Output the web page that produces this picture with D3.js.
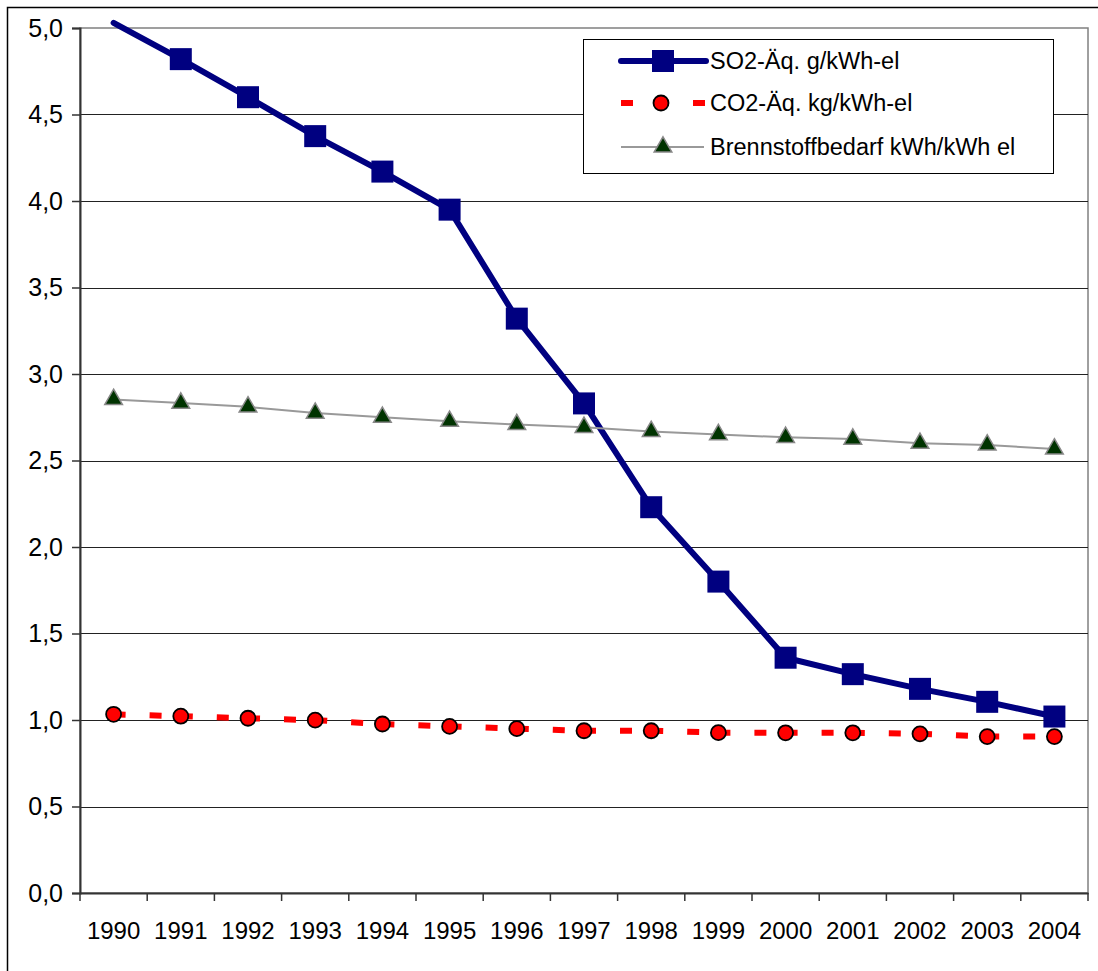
<!DOCTYPE html>
<html>
<head>
<meta charset="utf-8">
<script src="https://cdn.jsdelivr.net/npm/d3@7"></script>
<style>
  html, body { margin: 0; padding: 0; background: #fff; }
  svg { display: block; font-family: "Liberation Sans", Arial, sans-serif; }
</style>
</head>
<body>
<svg id="chart" width="1098" height="971"></svg>
<script>
// Jahre (Kategorien)
const years = ["1990","1991","1992","1993","1994","1995","1996","1997","1998","1999","2000","2001","2002","2003","2004"];

// SO2-Äquivalent in g/kWh-el
const so2 = [5.03, 4.82, 4.60, 4.375, 4.17, 3.95, 3.32, 2.83, 2.23, 1.80, 1.36, 1.265, 1.18, 1.105, 1.02];

// CO2-Äquivalent in kg/kWh-el
const co2 = [1.033, 1.022, 1.010, 0.999, 0.977, 0.963, 0.950, 0.938, 0.938, 0.927, 0.926, 0.926, 0.920, 0.904, 0.904];

// Brennstoffbedarf in kWh/kWh el
const fuel = [2.853, 2.832, 2.810, 2.774, 2.750, 2.727, 2.708, 2.692, 2.668, 2.650, 2.634, 2.624, 2.600, 2.590, 2.567];

// Beschriftung der Y-Achse
const yTicks = [0, 0.5, 1.0, 1.5, 2.0, 2.5, 3.0, 3.5, 4.0, 4.5, 5.0];

const seriesNames = ["SO2-Äq. g/kWh-el", "CO2-Äq. kg/kWh-el", "Brennstoffbedarf kWh/kWh el"];

(function () {
const svg = d3.select("#chart");
const plotL = 80, plotR = 1088, plotT = 28, plotB = 893;
const yFont = 25, xFont = 24, legendFont = 23.5;

const x = d3.scaleBand().domain(years).range([plotL, plotR]).paddingInner(0).paddingOuter(0);
const y = d3.scaleLinear().domain([0, 5]).range([plotB, plotT]);
const cx = d => x(d) + x.bandwidth() / 2;

// Äußerer Rahmen des Diagramms
svg.append("rect")
  .attr("x", 7.5).attr("y", 7.5)
  .attr("width", 1200).attr("height", 1100)
  .attr("fill", "none").attr("stroke", "#000").attr("stroke-width", 1.5);

// Rahmen der Zeichenfläche (grau)
svg.append("rect")
  .attr("x", plotL).attr("y", plotT)
  .attr("width", plotR - plotL).attr("height", plotB - plotT)
  .attr("fill", "none").attr("stroke", "#808080").attr("stroke-width", 1.5);

// Gitterlinien
svg.append("g")
  .selectAll("line")
  .data(yTicks.filter(v => v > 0 && v < 5))
  .join("line")
  .attr("x1", plotL).attr("x2", plotR)
  .attr("y1", d => Math.round(y(d)) + 0.5).attr("y2", d => Math.round(y(d)) + 0.5)
  .attr("stroke", "#222").attr("stroke-width", 1);

// Y-Achse
const yAxis = d3.axisLeft(y)
  .tickValues(yTicks)
  .tickFormat(d => d3.format(".1f")(d).replace(".", ","))
  .tickSize(8)
  .tickPadding(9);
const gy = svg.append("g").attr("transform", `translate(${plotL},0)`).call(yAxis);
gy.select(".domain").attr("stroke", "#333").attr("stroke-width", 2);
gy.selectAll(".tick line").attr("stroke", "#333").attr("stroke-width", 1.5);
gy.selectAll(".tick text")
  .attr("fill", "#000")
  .style("font-size", yFont + "px")
  .style("font-family", "'Liberation Sans', Arial, sans-serif");

// X-Achse: Linie, Striche an den Kategoriegrenzen, Beschriftung mittig
const xAxis = d3.axisBottom(x).tickSize(0).tickPadding(29);
const gx = svg.append("g").attr("transform", `translate(0,${plotB})`).call(xAxis);
gx.select(".domain").attr("stroke", "#333").attr("stroke-width", 2);
gx.selectAll(".tick text")
  .attr("fill", "#000")
  .style("font-size", xFont + "px")
  .style("font-family", "'Liberation Sans', Arial, sans-serif");

const boundaries = years.map(d => x(d)).concat([x.range()[1]]);
svg.append("g")
  .selectAll("line")
  .data(boundaries)
  .join("line")
  .attr("x1", d => d).attr("x2", d => d)
  .attr("y1", plotB).attr("y2", plotB + 8)
  .attr("stroke", "#333").attr("stroke-width", 1.5);

const line = vals => d3.line().x((d, i) => cx(years[i])).y(d => y(d))(vals);

// SO2: dicke dunkelblaue Linie mit Quadraten
svg.append("path")
  .attr("d", line(so2))
  .attr("fill", "none").attr("stroke", "#000080").attr("stroke-width", 6)
  .attr("stroke-linejoin", "round").attr("stroke-linecap", "round");
svg.append("g")
  .selectAll("path")
  .data(so2.map((v, i) => ({ v, yr: years[i] })).filter(d => d.v <= 5))
  .join("path")
  .attr("d", d3.symbol(d3.symbolSquare, 22 * 22)())
  .attr("transform", d => `translate(${cx(d.yr)},${y(d.v)})`)
  .attr("fill", "#000080");

// CO2: rot gestrichelt, Strichmuster beginnt in jedem Abschnitt neu
const co2Pts = co2.map((v, i) => [cx(years[i]), y(v)]);
svg.append("g")
  .selectAll("line")
  .data(d3.pairs(co2Pts))
  .join("line")
  .attr("x1", d => d[0][0]).attr("y1", d => d[0][1])
  .attr("x2", d => d[1][0]).attr("y2", d => d[1][1])
  .attr("stroke", "#ff0000").attr("stroke-width", 6)
  .attr("stroke-dasharray", "12,24");
svg.append("g")
  .selectAll("circle")
  .data(co2Pts)
  .join("circle")
  .attr("cx", d => d[0]).attr("cy", d => d[1]).attr("r", 7.5)
  .attr("fill", "#ff0000").attr("stroke", "#000").attr("stroke-width", 1.8);

// Brennstoffbedarf: dünne graue Linie mit dunkelgrünen Dreiecken
svg.append("path")
  .attr("d", line(fuel))
  .attr("fill", "none").attr("stroke", "#999").attr("stroke-width", 2);
const triangle = d3.symbol(d3.symbolTriangle, 135)();
svg.append("g")
  .selectAll("path")
  .data(fuel.map((v, i) => ({ v, yr: years[i] })))
  .join("path")
  .attr("d", triangle)
  .attr("transform", d => `translate(${cx(d.yr)},${y(d.v)})`)
  .attr("fill", "#003300").attr("stroke", "#888").attr("stroke-width", 1.5);

// Legende
const lg = svg.append("g");
lg.append("rect")
  .attr("x", 583.5).attr("y", 39.5).attr("width", 470).attr("height", 134)
  .attr("fill", "#fff").attr("stroke", "#000").attr("stroke-width", 1);
const rowsY = [61, 103, 147];
const lx1 = 621, lx2 = 706, mx = 663;

// Zeile 1: SO2
lg.append("line").attr("x1", lx1).attr("x2", lx2).attr("y1", rowsY[0]).attr("y2", rowsY[0])
  .attr("stroke", "#000080").attr("stroke-width", 6).attr("stroke-linecap", "round");
lg.append("path").attr("d", d3.symbol(d3.symbolSquare, 22 * 22)())
  .attr("transform", `translate(${mx},${rowsY[0]})`).attr("fill", "#000080");

// Zeile 2: CO2
lg.append("line").attr("x1", lx1).attr("x2", lx2).attr("y1", rowsY[1]).attr("y2", rowsY[1])
  .attr("stroke", "#ff0000").attr("stroke-width", 6).attr("stroke-dasharray", "12,24");
lg.append("circle").attr("cx", mx - 2).attr("cy", rowsY[1]).attr("r", 7.5)
  .attr("fill", "#ff0000").attr("stroke", "#000").attr("stroke-width", 1.8);

// Zeile 3: Brennstoffbedarf
lg.append("line").attr("x1", lx1).attr("x2", lx2 - 2).attr("y1", rowsY[2]).attr("y2", rowsY[2])
  .attr("stroke", "#999").attr("stroke-width", 2);
lg.append("path").attr("d", triangle)
  .attr("transform", `translate(${mx},${rowsY[2]})`)
  .attr("fill", "#003300").attr("stroke", "#888").attr("stroke-width", 1.5);

lg.selectAll("text")
  .data(seriesNames)
  .join("text")
  .attr("x", 710)
  .attr("y", (d, i) => rowsY[i])
  .attr("dy", "0.35em")
  .style("font-size", legendFont + "px")
  .attr("fill", "#000")
  .text(d => d);
})();
</script>
</body>
</html>
